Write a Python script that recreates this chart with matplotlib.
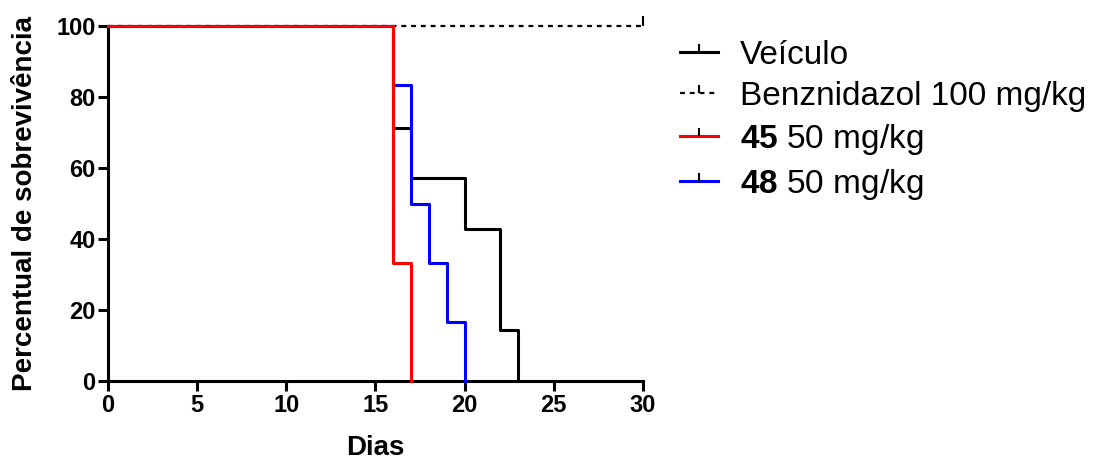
import matplotlib
matplotlib.use("Agg")
import matplotlib.pyplot as plt
from matplotlib.lines import Line2D

plt.rcParams['font.family'] = ['Liberation Sans', 'DejaVu Sans']
plt.rcParams['mathtext.fontset'] = 'custom'
plt.rcParams['mathtext.bf'] = 'Liberation Sans:bold'
plt.rcParams['mathtext.rm'] = 'Liberation Sans'

# Data (Kaplan-Meier step curves)
veiculo_t = [0, 16, 17, 20, 22, 23]
veiculo_s = [100, 71.4, 57.1, 42.9, 14.3, 0]
benz_t = [0, 30]
benz_s = [100, 100]
c45_t = [0, 16, 17]
c45_s = [100, 33.3, 0]
c48_t = [0, 16, 17, 18, 19, 20]
c48_s = [100, 83.3, 50, 33.3, 16.7, 0]
censor_benz_t = [30]
censor_benz_s = [100]

labels = ["Veículo", "Benznidazol 100 mg/kg", r"$\bf{45}$ 50 mg/kg", r"$\bf{48}$ 50 mg/kg"]
xticks = [0, 5, 10, 15, 20, 25, 30]
yticks = [0, 20, 40, 60, 80, 100]

fig = plt.figure(figsize=(10.99, 4.66), dpi=100)
ax = fig.add_axes([0.0983, 0.1824, 0.4867, 0.7616])

lw = 2.2
ax.step(benz_t, benz_s, where='post', color='black', lw=1.6, ls=(0, (2.2, 2.2)), zorder=2, clip_on=False)
ax.plot(censor_benz_t, censor_benz_s, ls='none', marker=[(0, 0), (0, 1)], ms=14, mew=1.5,
        color='black', clip_on=False, zorder=2)
ax.step(veiculo_t, veiculo_s, where='post', color='black', lw=lw, zorder=3, clip_on=False)
ax.step(c48_t, c48_s, where='post', color='#0000ff', lw=lw, zorder=4, clip_on=False)
ax.step(c45_t, c45_s, where='post', color='#ff0000', lw=lw, zorder=5, clip_on=False)

ax.set_xlim(0, 30)
ax.set_ylim(0, 100)
ax.set_xticks(xticks)
ax.set_yticks(yticks)
for s in ['top', 'right']:
    ax.spines[s].set_visible(False)
for s in ['left', 'bottom']:
    ax.spines[s].set_linewidth(2.2)
ax.tick_params(axis='both', direction='out', length=7, width=2.2, labelsize=17, pad=2)
for lab in ax.get_xticklabels() + ax.get_yticklabels():
    lab.set_fontweight('bold')

ax.set_xlabel("Dias", fontsize=20, fontweight='bold', labelpad=13)
ax.set_ylabel("Percentual de sobrevivência", fontsize=20, fontweight='bold', labelpad=13)

tick = [(0, 0), (0, 1)]
handles = [
    Line2D([], [], color='black', lw=2.2, marker=tick, ms=12, mew=1.5),
    Line2D([], [], color='black', lw=1.6, ls=(0, (2.2, 2.2)), marker=tick, ms=12, mew=1.5),
    Line2D([], [], color='#ff0000', lw=2.2, marker=tick, ms=12, mew=1.5, mec='black'),
    Line2D([], [], color='#0000ff', lw=2.2, marker=tick, ms=12, mew=1.5, mec='black'),
]
fig.legend(handles, labels, loc='upper left', bbox_to_anchor=(0.619, 0.914), frameon=False,
           fontsize=24, handlelength=1.14, handletextpad=0.66, labelspacing=0.3,
           borderaxespad=0, borderpad=0)

fig.savefig("out.png", dpi=100)
